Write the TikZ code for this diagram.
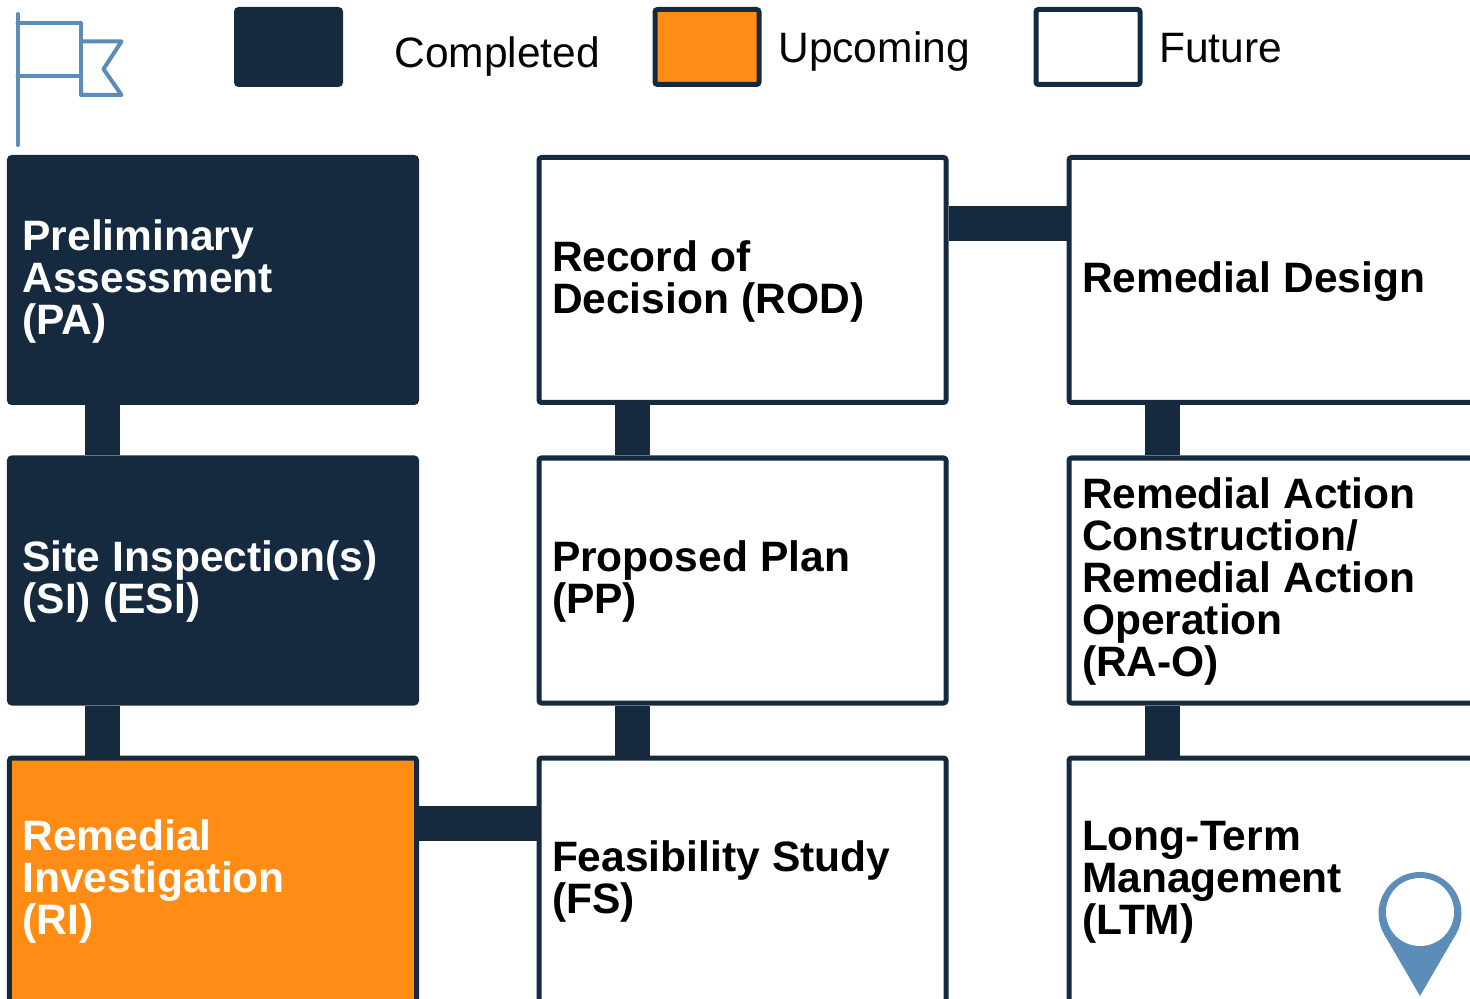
\documentclass[tikz,border=0pt]{standalone}
\usepackage{fontspec}
\setmainfont{Liberation Sans}
\usetikzlibrary{
    positioning,
    calc
}
\definecolor{navy}{HTML}{15293F}
\definecolor{amber}{HTML}{FF8C14}
\definecolor{steel}{HTML}{5B8DB8}

\begin{document}
\begin{tikzpicture}[
    box/.style={rectangle, draw=navy, line width=0.1cm, rounded corners=0.05cm, minimum width=8.14cm, minimum height=4.9cm, inner xsep=0.26cm, text width=7.62cm, align=left, font=\fontsize{24.2pt}{23.9pt}\selectfont\bfseries, execute at begin node={\spaceskip=0.29em\relax}, execute at end node={\endgraf\vspace{-0.06cm}}},
    completed/.style={box, fill=navy, text=white},
    upcoming/.style={box, fill=amber, text=white},
    future/.style={box, fill=white, text=black},
    swatch/.style={rectangle, draw=navy, line width=0.1cm, rounded corners=0.05cm, minimum width=2.08cm, minimum height=1.5cm},
    legend/.style={anchor=base west, inner sep=0pt, text=black!90!navy, font=\fontsize{24.2pt}{23.9pt}\selectfont},
    link/.style={draw=navy, line width=0.7cm},
    icon/.style={draw=steel, line width=0.08cm, line join=round, line cap=round}
]
    \useasboundingbox (0, 0) rectangle (29.4, -19.98);
    \clip (0, 0) rectangle (29.4, -19.98);

    % Legend
    \coordinate (flagtop) at (0.35, -0.28);
    \coordinate (flagfoot) at (0.35, -2.9);
    \draw[icon] (flagtop) -- (flagfoot);
    \draw[icon] (0.35, -0.46) -- (1.62, -0.46) -- (1.62, -1.52) -- (0.35, -1.52);
    \draw[icon] (1.62, -0.83) -- (2.43, -0.83) -- (2.07, -1.38) -- (2.43, -1.9) -- (1.62, -1.9) -- (1.62, -1.52);
    \node[swatch, fill=navy] (done) at (5.77, -0.94) {};
    \node[legend] (donelabel) at (7.88, -1.36) {Completed};
    \node[swatch, fill=amber] (next) at (14.14, -0.94) {};
    \node[legend] (nextlabel) at (15.56, -1.26) {Upcoming};
    \node[swatch, fill=white] (later) at (21.76, -0.94) {};
    \node[legend] (laterlabel) at (23.18, -1.26) {Future};

    % First column
    \node[completed] (pa) at (4.26, -5.6) {Preliminary\\Assessment\\(PA)};
    \node[completed] (si) at (4.26, -11.61) {Site Inspection(s)\\(SI) (ESI)};
    \node[upcoming] (ri) at (4.26, -17.61) {Remedial\\Investigation\\(RI)};

    % Second column
    \node[future] (rod) at (14.85, -5.6) {Record of\\Decision (ROD)};
    \node[future] (pp) at (14.85, -11.61) {Proposed Plan\\(PP)};
    \node[future] (fs) at (14.85, -17.61) {Feasibility Study\\(FS)};

    % Third column
    \node[future] (rd) at (25.45, -5.6) {Remedial Design};
    \node[future] (rao) at (25.45, -11.61) {Remedial Action\\Construction/\\Remedial Action\\Operation\\(RA-O)};
    \node[future] (ltm) at (25.45, -17.61) {Long-Term\\Management\\(LTM)};

    % Links
    \draw[link] ($(pa.south west)!0.233!(pa.south east)$) -- ($(si.north west)!0.233!(si.north east)$);
    \draw[link] ($(si.south west)!0.233!(si.south east)$) -- ($(ri.north west)!0.233!(ri.north east)$);
    \draw[link] ($(ri.north east)!0.27!(ri.south east)$) -- ($(fs.north west)!0.27!(fs.south west)$);
    \draw[link] ($(fs.north west)!0.233!(fs.north east)$) -- ($(pp.south west)!0.233!(pp.south east)$);
    \draw[link] ($(pp.north west)!0.233!(pp.north east)$) -- ($(rod.south west)!0.233!(rod.south east)$);
    \draw[link] ($(rod.north east)!0.275!(rod.south east)$) -- ($(rd.north west)!0.275!(rd.south west)$);
    \draw[link] ($(rd.south west)!0.233!(rd.south east)$) -- ($(rao.north west)!0.233!(rao.north east)$);
    \draw[link] ($(rao.south west)!0.233!(rao.south east)$) -- ($(ltm.north west)!0.233!(ltm.north east)$);

    % Pin
    \fill[steel] (28.4, -18.27) circle (0.83);
    \fill[steel] (28.4, -19.92) -- (27.68, -18.68) -- (29.12, -18.68) -- cycle;
    \fill[white] (28.4, -18.24) circle (0.68);
\end{tikzpicture}
\end{document}
